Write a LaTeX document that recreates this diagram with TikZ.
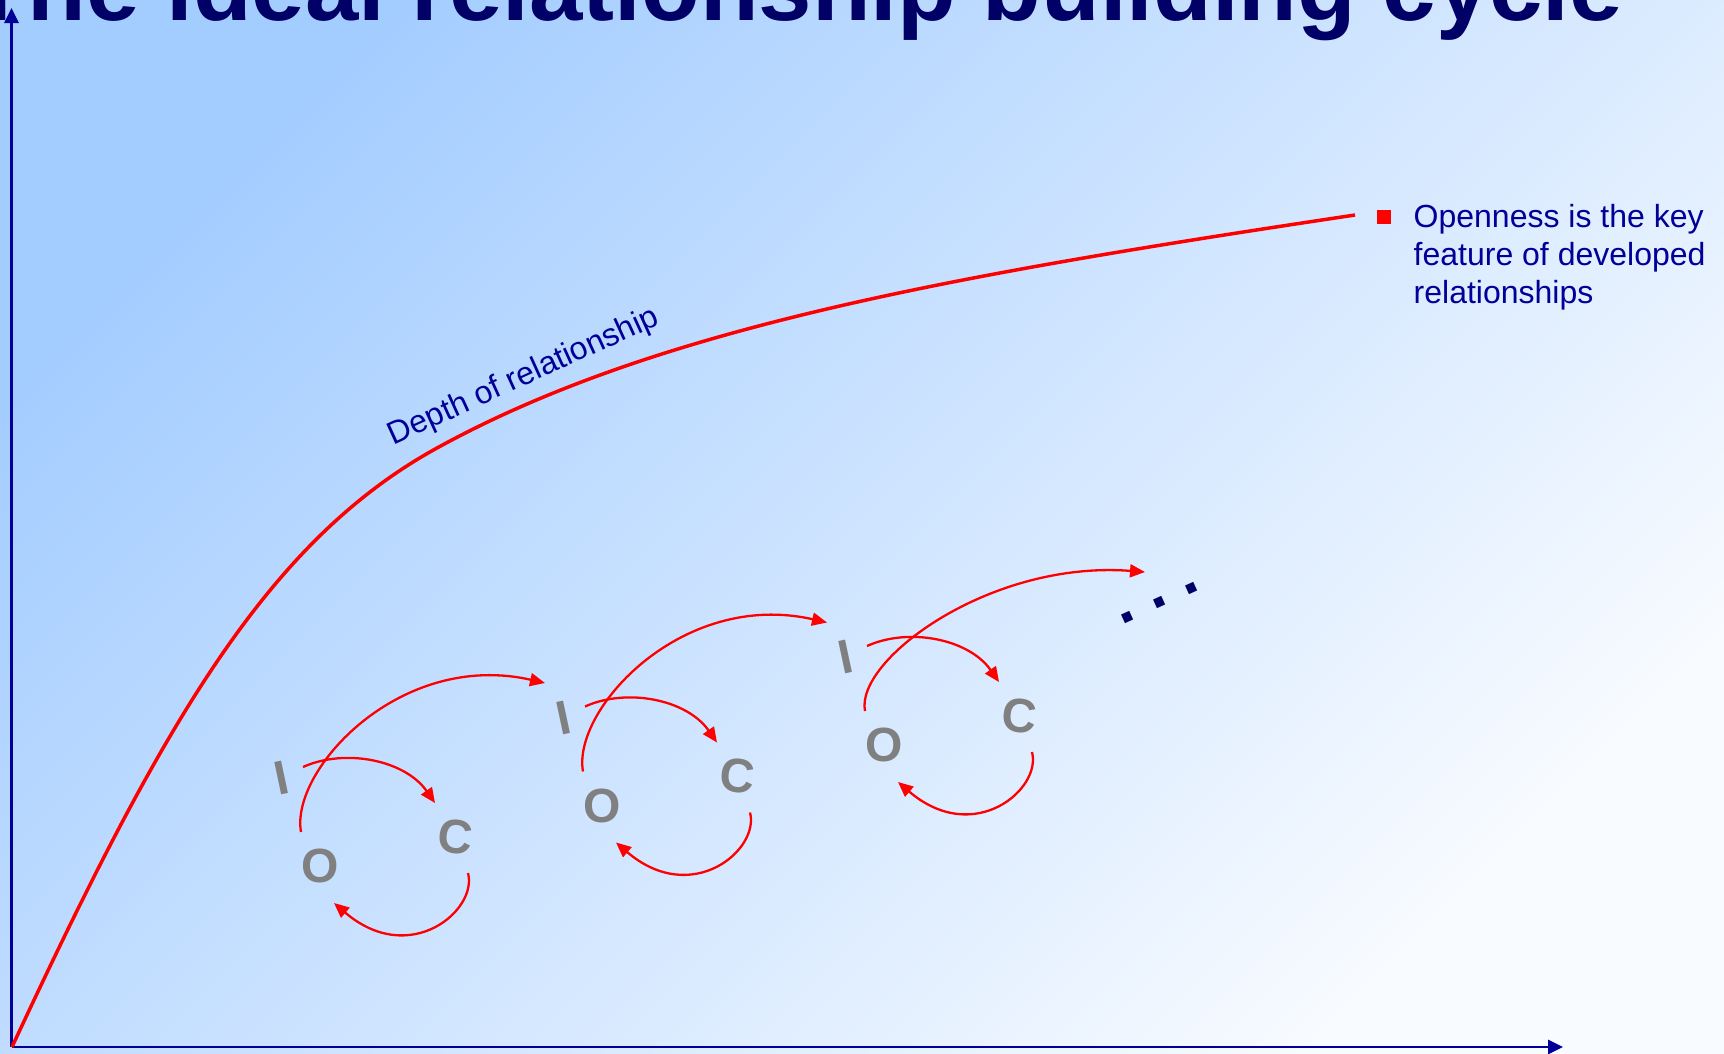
\documentclass[tikz,border=0pt]{standalone}
\usepackage{fontspec}
\setmainfont{Liberation Sans}
\usetikzlibrary{arrows.meta}
\definecolor{navy}{RGB}{0,0,102}
\definecolor{axisblue}{RGB}{0,0,153}
\definecolor{bgA}{RGB}{164,205,255}
\definecolor{bgB}{RGB}{248,251,255}
\definecolor{lettergray}{RGB}{128,128,128}
\definecolor{pptred}{RGB}{255,0,0}
\begin{document}
\begin{tikzpicture}[x=1pt,y=-1pt,
  axisline/.style={draw=axisblue,line width=2.8pt,-{Triangle[length=15pt,width=14pt]}},
  depthcurve/.style={draw=pptred,line width=3.5pt},
  cyclearrow/.style={draw=pptred,line width=2.3pt,-{Triangle[length=15pt,width=13pt]}},
  letter/.style={inner sep=0pt,text=lettergray,font=\fontsize{48}{50}\selectfont\bfseries},
  bodytext/.style={inner sep=0pt,anchor=base west,text=axisblue,font=\fontsize{32}{38}\selectfont}]
\useasboundingbox (0,0) rectangle (1724,1053);
\clip (0,0) rectangle (1724,1053);
\shade[top color=bgA,bottom color=bgB,shading angle=45] (0,0) rectangle (1724,1053);

% title
\node[inner sep=0pt,anchor=base west,text=navy,font=\fontsize{96}{100}\selectfont\bfseries] (title) at (-31,20) {The ideal relationship building cycle};

% axes
\coordinate (origin) at (11.5,1047);
\coordinate (ytop) at (11.5,8);
\coordinate (xend) at (1563,1047);
\draw[axisline] (origin) -- (ytop);
\draw[axisline] (origin) -- (xend);

% depth curve
\coordinate (curvestart) at (12,1047);
\coordinate (curvemid) at (437,448);
\coordinate (curveend) at (1355,215);
\draw[depthcurve] (curvestart) .. controls (162,724.5) and (267,541.5) .. (curvemid)
  .. controls (657,327) and (955,275) .. (curveend);
\node[bodytext,rotate=24.5] (depth) at (393.5,445.5) {Depth of relationship};

% bullet text
\node[fill=pptred,minimum size=14pt,inner sep=0pt] (bullet) at (1383.6,217) {};
\node[bodytext] (r1) at (1413.5,227.3) {Openness is the key};
\node[bodytext] (r2) at (1413.5,265.3) {feature of developed};
\node[bodytext] (r3) at (1413.5,303.3) {relationships};

% cycles
\foreach \g/\dx/\dy in {1/0/0,2/282/-60.5,3/564/-121}{
  \begin{scope}[shift={(\dx,\dy)}]
    \node[letter,rotate=12] (I\g) at (282,778) {I};
    \node[letter,rotate=-6] (C\g) at (455.7,836.7) {C};
    \node[letter] (O\g) at (320.2,866.3) {O};
    \coordinate (ia\g) at (303,767);
    \coordinate (ib\g) at (435,803);
    \coordinate (ca\g) at (468,873);
    \coordinate (cb\g) at (334,903);
    \coordinate (oa\g) at (301,832);
    \draw[cyclearrow] (ia\g) .. controls (345,748) and (405,760) .. (ib\g);
    \draw[cyclearrow] (ca\g) .. controls (478,910) and (410,968) .. (cb\g);
  \end{scope}
}
\coordinate (t1) at (545,683);
\coordinate (t2) at (827,622.5);
\coordinate (t3) at (1145,572);
\draw[cyclearrow] (oa1) .. controls (290,770) and (400,650) .. (t1);
\draw[cyclearrow] (oa2) .. controls (572,709.5) and (682,589.5) .. (t2);
\draw[cyclearrow] (oa3) .. controls (855,660) and (990,560) .. (t3);

% continuation dots
\node[inner sep=0pt,text=navy,rotate=24.5,font=\fontsize{64}{70}\selectfont\bfseries] (dots) at (1160,602.7) {.\kern17.5pt.\kern17.5pt.};
\end{tikzpicture}
\end{document}
